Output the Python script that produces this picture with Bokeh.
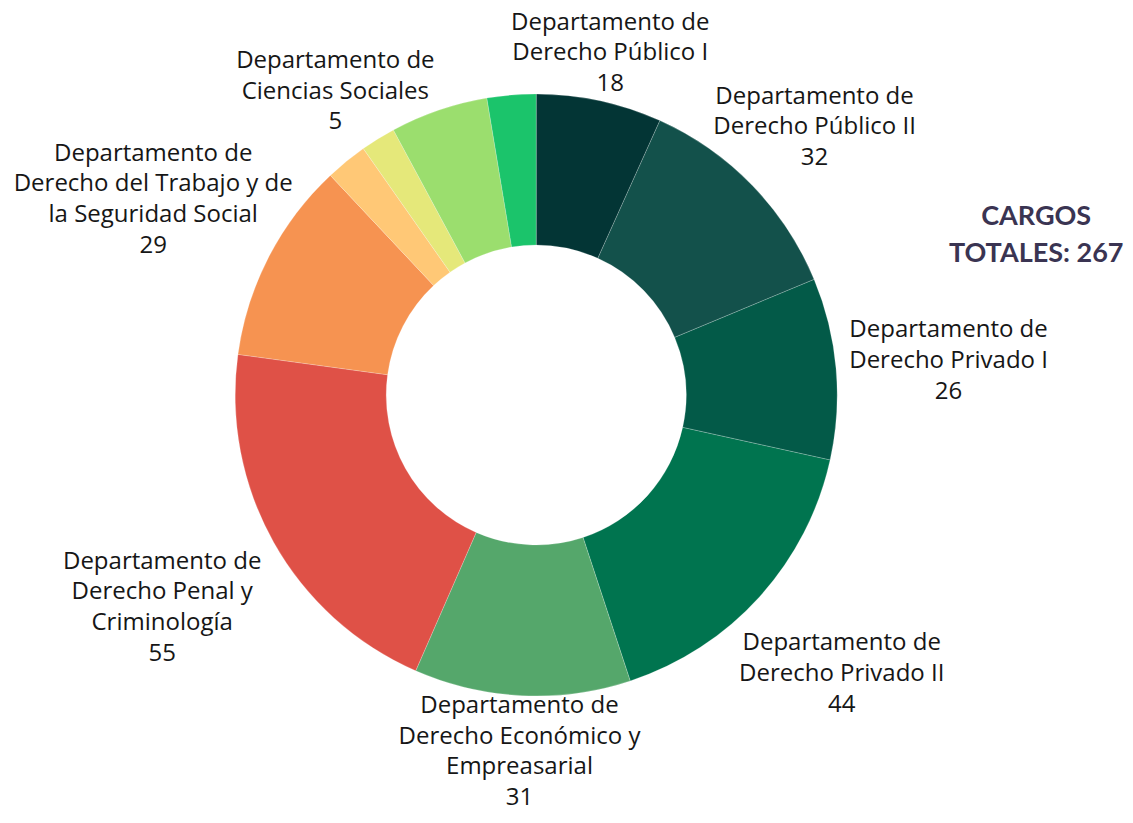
import math
from bokeh.plotting import figure
from bokeh.models import ColumnDataSource, Range1d
from bokeh.core.properties import value
from bokeh.embed import file_html
from bokeh.resources import INLINE

# ---- data ----
labels = [
    "Departamento de\nDerecho Público I",
    "Departamento de\nDerecho Público II",
    "Departamento de\nDerecho Privado I",
    "Departamento de\nDerecho Privado II",
    "Departamento de\nDerecho Económico y\nEmpreasarial",
    "Departamento de\nDerecho Penal y\nCriminología",
    "Departamento de\nDerecho del Trabajo y de\nla Seguridad Social",
    "",
    "Departamento de\nCiencias Sociales",
    "",
    "",
]
values = [18, 32, 26, 44, 31, 55, 29, 6, 5, 14, 7]
colors = ["#033535", "#13514B", "#035A48", "#00744F", "#55A76B", "#DF5147",
          "#F69351", "#FFC876", "#E5E87A", "#9BDE6E", "#1BC46B"]
title_text = "CARGOS\nTOTALES: 267"

# ---- layout / style ----
W, H = 1125, 815
cx, cy = 535.7, 394.5
R_OUT, R_IN = 301, 150
label_r = [352, 388, 414, 412, 355, 429, 431, 0, 366, 0, 0]
label_dang = [0, 0, 0, 0, 0, 0, 0, 0, -1.6, 0, 0]

total = sum(values)
starts, ends, mids = [], [], []
acc = 0.0
for v in values:
    a0 = acc / total * 2 * math.pi
    acc += v
    a1 = acc / total * 2 * math.pi
    starts.append(math.pi / 2 - a0)
    ends.append(math.pi / 2 - a1)
    mids.append((a0 + a1) / 2)

src = ColumnDataSource(dict(start=starts, end=ends, color=colors))

p = figure(width=W, height=H, output_backend="svg", toolbar_location=None,
           x_range=Range1d(-cx, W - cx), y_range=Range1d(-(H - cy), cy),
           min_border=0)
p.axis.visible = False
p.grid.visible = False
p.outline_line_color = None
p.background_fill_color = "white"

p.annular_wedge(x=0, y=0, inner_radius=R_IN, outer_radius=R_OUT,
                start_angle="start", end_angle="end", direction="clock",
                fill_color="color", line_color="white", line_alpha=0.35,
                line_width=0.6, source=src)

lx, ly, lt = [], [], []
for lab, v, m, r, da in zip(labels, values, mids, label_r, label_dang):
    if not lab:
        continue
    a = m + math.radians(da)
    lx.append(r * math.sin(a))
    ly.append(r * math.cos(a))
    lt.append(f"{lab}\n{v}")

p.text(x=lx, y=ly, text=lt, text_align="center", text_baseline="middle",
       text_font=value("Open Sans"), text_font_size="24px",
       text_color="#161616", text_line_height=0.93)

p.text(x=[500], y=[162], text=[title_text], text_align="center",
       text_baseline="middle", text_font=value("Lato"), text_font_style="bold",
       text_font_size="27px", text_color="#3A3452", text_line_height=1.12)

open("out.html", "w").write(file_html(p, INLINE))
